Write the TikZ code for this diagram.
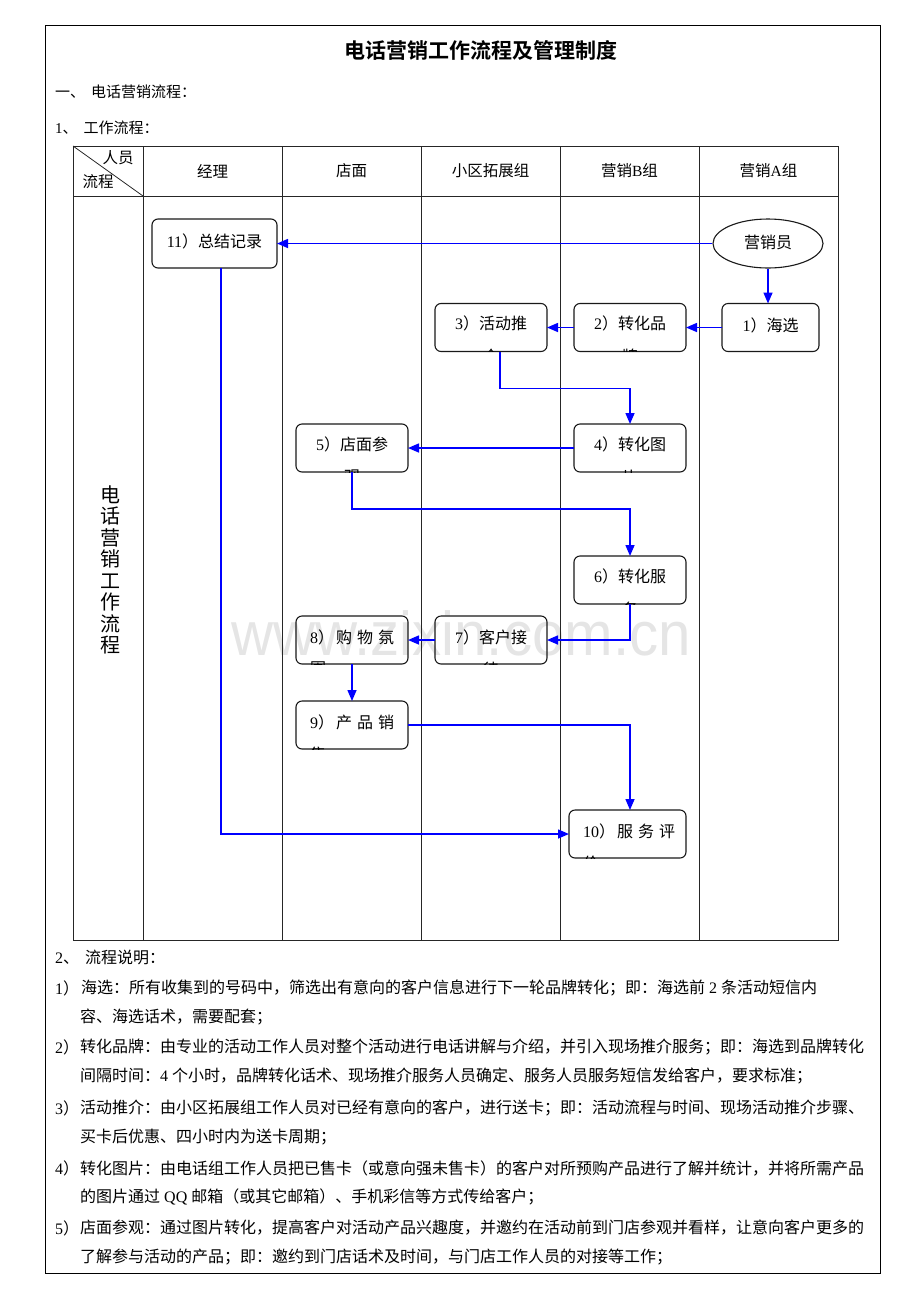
\documentclass[tikz,border=0pt]{standalone}
\usepackage{fontspec}
\usetikzlibrary{arrows.meta,shapes.geometric}
\setmainfont{Liberation Serif}
\newfontfamily\cjk[BoldFont={* Bold}]{Noto Sans CJK SC}
\newfontfamily\latf{Liberation Serif}
\newfontfamily\wmfont{Liberation Sans}
\newcommand\lt[1]{{\latf #1}}
\XeTeXlinebreaklocale "zh"
\XeTeXlinebreakskip=0pt plus 1pt
\newcommand\clipchar[3]{\begin{scope}\clip[rounded corners=6pt] (#1.south west) rectangle (#1.north east); \node[lbl] at #2 {#3};\end{scope}}
\tikzset{
  lane/.style={draw=black!85, line width=0.8pt},
  proc/.style={draw=black!90, line width=1.1pt, rounded corners=6pt, minimum height=48pt, inner sep=0pt, outer sep=0pt},
  lbl/.style={font=\cjk\fontsize{16}{16}\selectfont, inner sep=0pt},
  hdr/.style={font=\cjk\fontsize{15.5}{16}\selectfont, inner sep=0pt},
  flow/.style={draw=blue, line width=1.5pt, -{Triangle[length=11pt,width=9pt]}},
  body/.style={font=\cjk\fontsize{16}{18}\selectfont, inner sep=0pt, anchor=west},
  full/.style={body, text width=792pt, align=justify},
}
\begin{document}
\begin{tikzpicture}[x=1pt,y=1pt]
\useasboundingbox (0,0) rectangle (920,-1302);
% outer frame
\draw[line width=0.9pt] (45,-25) rectangle (880,-1273);
% title and headings
\node[font=\cjk\bfseries\fontsize{21}{22}\selectfont, inner sep=0pt] (title) at (481,-50) {电话营销工作流程及管理制度};
\node[body, font=\cjk\fontsize{15}{16}\selectfont] (s1) at (55,-92) {一、\hspace{6pt}电话营销流程：};
\node[body, font=\cjk\fontsize{15}{16}\selectfont] (s11) at (55,-128) {\lt{1}、\hspace{6pt}工作流程：};
% watermark
\node[font=\wmfont\fontsize{62}{62}\selectfont, text=black!10, inner sep=0pt, xscale=0.94] (wm) at (461,-633) {www.zixin.com.cn};
% table
\draw[lane] (73,-146) rectangle (838,-940);
\foreach \x in {143,282,421,560,699} \draw[lane] (\x,-146) -- (\x,-940);
\draw[lane] (73,-196) -- (838,-196);
\draw[lane] (73,-146) -- (143,-196);
\node[hdr] (hp) at (118,-158) {人员};
\node[hdr] (hf) at (98,-182) {流程};
\node[hdr] (h1) at (212.5,-171) {经理};
\node[hdr] (h2) at (351.5,-171) {店面};
\node[hdr] (h3) at (490.5,-171) {小区拓展组};
\node[hdr] (h4) at (629.5,-171) {营销\lt{B}组};
\node[hdr] (h5) at (768.5,-171) {营销\lt{A}组};
\node[font=\cjk\fontsize{20}{21.5}\selectfont, align=center, inner sep=0pt] (vt) at (110,-570) {电\\话\\营\\销\\工\\作\\流\\程};
% boxes
\node[proc, minimum width=125pt, minimum height=49pt] (b11) at (214.5,-243.5) {};
\node[lbl] (t11) at (214.5,-241) {\lt{11}）总结记录};
\node[draw=black!90, line width=1.1pt, ellipse, minimum width=110pt, minimum height=49pt, inner sep=0pt] (ell) at (768,-243.5) {};
\node[lbl] (tell) at (768,-242) {营销员};
\node[proc, minimum width=97pt] (b1) at (770.5,-327.5) {};
\node[lbl] (t1) at (770.5,-325.5) {\lt{1}）海选};
\node[proc, minimum width=112pt] (b2) at (630,-327.5) {};
\node[lbl] (t2) at (630,-323.5) {\lt{2}）转化品};
\clipchar{b2}{(630,-356.5)}{牌}
\node[proc, minimum width=112pt] (b3) at (491,-327.5) {};
\node[lbl] (t3) at (491,-323.5) {\lt{3}）活动推};
\clipchar{b3}{(491,-356.5)}{介}
\node[proc, minimum width=112pt] (b4) at (630,-448) {};
\node[lbl] (t4) at (630,-444) {\lt{4}）转化图};
\clipchar{b4}{(630,-477)}{片}
\node[proc, minimum width=112pt] (b5) at (352,-448) {};
\node[lbl] (t5) at (352,-444) {\lt{5}）店面参};
\clipchar{b5}{(352,-477)}{观}
\node[proc, minimum width=112pt] (b6) at (630,-580) {};
\node[lbl] (t6) at (630,-576) {\lt{6}）转化服};
\clipchar{b6}{(630,-609)}{务}
\node[proc, minimum width=112pt] (b7) at (491,-640) {};
\node[lbl] (t7) at (491,-637) {\lt{7}）客户接};
\clipchar{b7}{(491,-669)}{待}
\node[proc, minimum width=112pt] (b8) at (352,-640) {};
\node[lbl, anchor=west] (t8) at (310,-637) {\lt{8}）\hspace{2pt}购\hspace{5pt}物\hspace{5pt}氛};
\clipchar{b8}{(318,-669)}{围}
\node[proc, minimum width=112pt] (b9) at (352,-725) {};
\node[lbl, anchor=west] (t9) at (310,-722) {\lt{9}）\hspace{2pt}产\hspace{5pt}品\hspace{5pt}销};
\clipchar{b9}{(318,-754)}{售}
\node[proc, minimum width=117pt] (b10) at (627.5,-834) {};
\node[lbl, anchor=west] (t10) at (583,-831) {\lt{10}）\hspace{2pt}服\hspace{5pt}务\hspace{5pt}评};
\clipchar{b10}{(591,-863)}{价}
% connectors
\draw[flow] (ell.west) -- (b11.east);
\draw[flow] (ell.south) -- (ell.south |- b1.north);
\draw[flow] (b1.west) -- (b2.east);
\draw[flow] (b2.west) -- (b3.east);
\draw[flow] ([xshift=9pt]b3.south) -- ++(0,-37) -| (b4.north);
\draw[flow] (b4.west) -- (b5.east);
\draw[flow] (b5.south) -- ++(0,-37) -| (b6.north);
\draw[flow] (b6.south) |- (b7.east);
\draw[flow] (b7.west) -- (b8.east);
\draw[flow] (b8.south) -- (b9.north);
\draw[flow] (b9.east) -| ([xshift=2.5pt]b10.north);
\draw[flow] ([xshift=6.5pt]b11.south) |- (b10.west);
% explanation
\node[body] (n2) at (55,-957) {\lt{2}、\hspace{6pt}流程说明：};
\node[body] (k1) at (55,-988) {\lt{1}）};
\node[body] (l1) at (81,-988) {海选：所有收集到的号码中，筛选出有意向的客户信息进行下一轮品牌转化；即：海选前\lt{ 2 }条活动短信内};
\node[body] (l1b) at (80,-1017) {容、海选话术，需要配套；};
\node[body] (k2) at (55,-1047) {\lt{2}）};
\node[full] (l2) at (80,-1047) {\noindent\parfillskip=0pt 转化品牌：由专业的活动工作人员对整个活动进行电话讲解与介绍，并引入现场推介服务；即：海选到品牌转化};
\node[body] (l2b) at (80,-1076) {间隔时间：\lt{4 }个小时，品牌转化话术、现场推介服务人员确定、服务人员服务短信发给客户，要求标准；};
\node[body] (k3) at (55,-1108) {\lt{3}）};
\node[full] (l3) at (80,-1108) {\noindent\parfillskip=0pt 活动推介：由小区拓展组工作人员对已经有意向的客户，进行送卡；即：活动流程与时间、现场活动推介步骤、};
\node[body] (l3b) at (80,-1137) {买卡后优惠、四小时内为送卡周期；};
\node[body] (k4) at (55,-1168) {\lt{4}）};
\node[full] (l4) at (80,-1168) {\noindent\parfillskip=0pt 转化图片：由电话组工作人员把已售卡（或意向强未售卡）的客户对所预购产品进行了解并统计，并将所需产品};
\node[body] (l4b) at (80,-1197) {的图片通过\lt{ QQ }邮箱（或其它邮箱）、手机彩信等方式传给客户；};
\node[body] (k5) at (55,-1228) {\lt{5}）};
\node[full] (l5) at (80,-1228) {\noindent\parfillskip=0pt 店面参观：通过图片转化，提高客户对活动产品兴趣度，并邀约在活动前到门店参观并看样，让意向客户更多的};
\node[body] (l5b) at (80,-1257) {了解参与活动的产品；即：邀约到门店话术及时间，与门店工作人员的对接等工作；};
\end{tikzpicture}
\end{document}
